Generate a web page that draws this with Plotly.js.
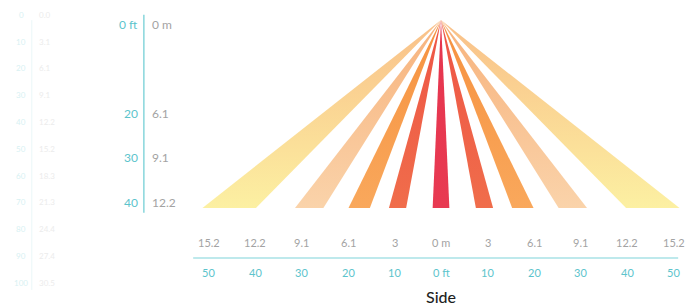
<!DOCTYPE html>
<html>
<head>
<meta charset="utf-8">
<script src="https://cdn.plot.ly/plotly-3.0.1.min.js"></script>
<style>html,body{margin:0;padding:0;background:#fff;}#chart{width:689px;height:308px;}</style>
</head>
<body>
<div id="chart"></div>
<script>
// ---- data (feet) ----
const apexDepth = -1.1;          // sensor position depth (ft)
const beamDepth = 41.3;          // beam reach depth (ft)
// beam edges at full reach (ft from centre line), for right side; mirrored on left
const beamInner = [-1.8, 7.5, 15.3, 25.3, 39.8];
const beamOuter = [1.8, 11.2, 19.9, 31.4, 51.3];
const beamTopColor = ['#e6354e', '#ee5445', '#f6913f', '#f7b27c', '#f9bf88'];
const beamBotColor = ['#e83a52', '#f06d4b', '#f9a85c', '#fad3aa', '#fcf0a2'];

const sideFt = [-50, -40, -30, -20, -10, 0, 10, 20, 30, 40, 50];
const sideFtLabels = ['50', '40', '30', '20', '10', '0 ft', '10', '20', '30', '40', '50'];
const sideMLabels = ['15.2', '12.2', '9.1', '6.1', '3', '0 m', '3', '6.1', '9.1', '12.2', '15.2'];

const depthFt = [0, 20, 30, 40];
const depthFtLabels = ['0 ft', '20', '30', '40'];
const depthMLabels = ['0 m', '6.1', '9.1', '12.2'];

// faint bleed-through scale on the far left
const ghostFtLabels = ['0', '10', '20', '30', '40', '50', '60', '70', '80', '90', '100'];
const ghostMLabels = ['0.0', '3.1', '6.1', '9.1', '12.2', '15.2', '18.3', '21.3', '24.4', '27.4', '30.5'];

// ---- layout constants ----
const TEAL = '#5cc4cc';
const GRAY = '#a3a3a3';
const FONT = 'Lato, "Open Sans", sans-serif';

const traces = [];
function beam(x0, x1, i) {
  traces.push({
    type: 'scatter', mode: 'lines',
    x: [0, x0, x1, 0], y: [apexDepth, beamDepth, beamDepth, apexDepth],
    fill: 'toself',
    fillgradient: {type: 'vertical', colorscale: [[0, beamBotColor[i]], [1, beamTopColor[i]]]},
    line: {width: 0, color: 'rgba(0,0,0,0)'},
    hoverinfo: 'skip', showlegend: false
  });
}
for (let i = beamInner.length - 1; i >= 0; i--) {
  if (i === 0) { beam(beamInner[0], beamOuter[0], 0); continue; }
  beam(beamInner[i], beamOuter[i], i);
  beam(-beamInner[i], -beamOuter[i], i);
}

// axis lines
const depthLineX = -63.9, sideLineY = 52.6;
traces.push({type: 'scatter', mode: 'lines', x: [depthLineX, depthLineX], y: [-2.3, 42.4],
  line: {color: '#7fd3d9', width: 1.4}, hoverinfo: 'skip', showlegend: false});
traces.push({type: 'scatter', mode: 'lines', x: [-53.3, 51.0], y: [sideLineY, sideLineY],
  line: {color: '#a8e2e6', width: 1.4}, hoverinfo: 'skip', showlegend: false});
// ghost line
traces.push({type: 'scatter', mode: 'lines', x: [-88, -88], y: [-1.1, 59.8],
  line: {color: '#eaf7f8', width: 1}, hoverinfo: 'skip', showlegend: false});

const ann = [];
sideFt.forEach((v, i) => {
  ann.push({x: v, y: 49.0, text: sideMLabels[i], showarrow: false, xanchor: 'center', yanchor: 'middle',
    font: {family: FONT, size: 11, color: GRAY}});
  ann.push({x: v, y: 55.9, text: sideFtLabels[i], showarrow: false, xanchor: 'center', yanchor: 'middle',
    font: {family: FONT, size: 11, color: TEAL}});
});
depthFt.forEach((v, i) => {
  ann.push({x: depthLineX - 0.8, y: v, text: depthFtLabels[i], showarrow: false, xanchor: 'right', yanchor: 'middle',
    font: {family: FONT, size: 12, color: TEAL}});
  ann.push({x: depthLineX + 1.3, y: v, text: depthMLabels[i], showarrow: false, xanchor: 'left', yanchor: 'middle',
    font: {family: FONT, size: 12, color: GRAY}});
});
ghostFtLabels.forEach((t, i) => {
  const y = -2.3 + i * 6.05;
  ann.push({x: -90.3, y: y, text: t, showarrow: false, xanchor: 'center', yanchor: 'middle',
    font: {family: FONT, size: 8, color: '#d8f1f3'}});
  ann.push({x: -86.8, y: y, text: ghostMLabels[i], showarrow: false, xanchor: 'left', yanchor: 'middle',
    font: {family: FONT, size: 8, color: '#ececec'}});
});
ann.push({x: 0, y: 61.3, text: 'Side', showarrow: false, xanchor: 'center', yanchor: 'middle',
  font: {family: FONT, size: 16, color: '#1e1e1e', weight: 500}});

const layout = {
  width: 689, height: 308,
  margin: {l: 0, r: 0, t: 0, b: 0},
  paper_bgcolor: '#ffffff', plot_bgcolor: '#ffffff',
  xaxis: {range: [-94.84, 53.33], visible: false, fixedrange: true},
  yaxis: {range: [63.88, -5.64], visible: false, fixedrange: true},
  annotations: ann,
  showlegend: false
};
Plotly.newPlot('chart', traces, layout, {staticPlot: true, displayModeBar: false});
</script>
</body>
</html>
